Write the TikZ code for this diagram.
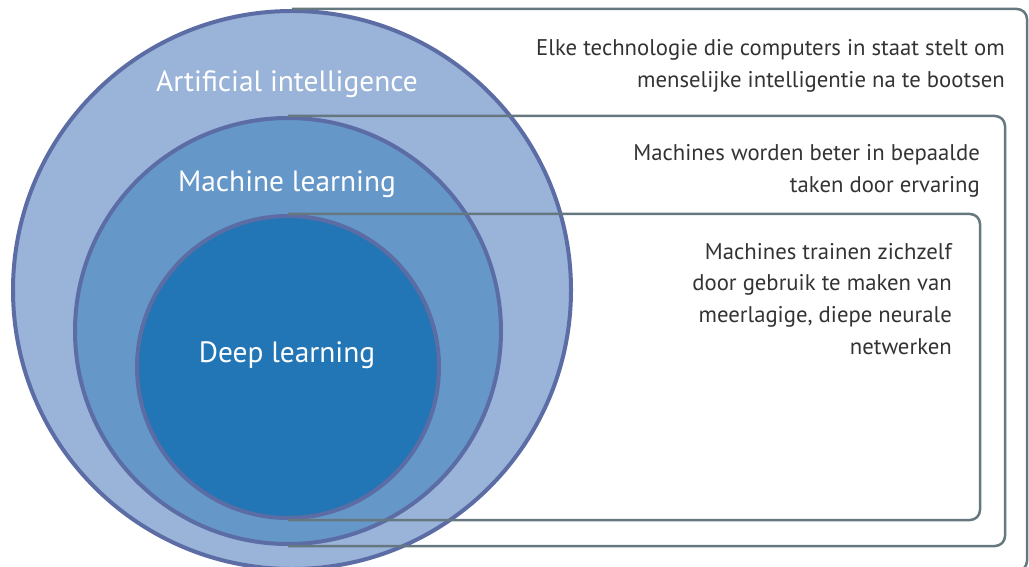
\documentclass[tikz,border=0pt]{standalone}
\usepackage{fontspec}
\setmainfont{PT Sans}
\definecolor{aifill}{HTML}{9AB3D8}
\definecolor{mlfill}{HTML}{6597C8}
\definecolor{dlfill}{HTML}{2376B5}
\definecolor{ringline}{HTML}{5C6DA5}
\definecolor{frameline}{HTML}{66787F}
\definecolor{textgray}{HTML}{333333}
\begin{document}
\begin{tikzpicture}[x=1bp,y=-1bp,
            ring/.style={circle,draw=ringline,line width=4bp,inner sep=0pt},
            lbl/.style={text=white,font=\fontsize{29.5}{34}\selectfont},
            frame/.style={draw=frameline,line width=2.5bp,rounded corners=10bp},
            expl/.style={anchor=east,align=right,text=textgray,inner sep=0pt,font=\fontsize{22.8}{32}\selectfont},
        ]
    \useasboundingbox (0,0) rectangle (1029,567);
    \node[ring,fill=aifill,minimum size=558bp] (ai) at (292,290) {};
    \node[ring,fill=mlfill,minimum size=426bp] (ml) at (288,331) {};
    \node[ring,fill=dlfill,minimum size=302bp] (dl) at (288,367) {};

    \draw[frame] (ai.north) -| (1027,0 |- ai.south) -- (ai.south);
    \draw[frame] (ml.north) -| (1005,0 |- ml.south) -- (ml.south);
    \draw[frame] (dl.north) -| (980,0 |- dl.south) -- (dl.south);

    \node[lbl] (ailbl) at (287,84) {Artificial intelligence};
    \node[lbl] (mllbl) at (287,184) {Machine learning};
    \node[lbl] (dllbl) at (287,355) {Deep learning};

    \node[expl] (aitxt) at (1005,66) {Elke technologie die computers in staat stelt om\\menselijke intelligentie na te bootsen};
    \node[expl] (mltxt) at (980,171) {Machines worden beter in bepaalde\\taken door ervaring};
    \node[expl] (dltxt) at (952,299) {Machines trainen zichzelf\\door gebruik te maken van\\meerlagige, diepe neurale\\netwerken};
\end{tikzpicture}
\end{document}
